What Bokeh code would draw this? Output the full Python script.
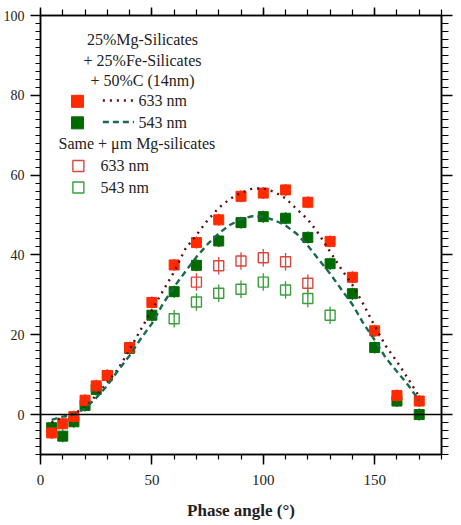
from bokeh.plotting import figure
from bokeh.models import (Range1d, LinearAxis, SingleIntervalTicker, Span, CustomJSTickFormatter)
from bokeh.core.properties import value
from bokeh.embed import file_html
from bokeh.resources import INLINE

# ---- data ----
angle_full = [5, 10, 15, 20, 25, 30, 40, 50, 60, 70, 80, 90, 100, 110, 120, 130, 140, 150, 160, 170]
red633 = [-4.6, -2.3, -0.5, 3.6, 7.2, 9.8, 16.8, 28.1, 37.5, 43.1, 48.8, 54.7, 55.5, 56.3, 53.2, 43.4, 34.4, 21.0, 4.8, 3.4]
green543 = [-3.3, -5.4, -1.8, 2.3, 6.3, 9.8, 16.6, 24.9, 30.8, 37.4, 43.5, 48.1, 49.6, 49.2, 44.4, 37.8, 30.3, 16.8, 3.4, 0.0]
err_filled = [1.5] * len(angle_full)

angle_red_um = [70, 80, 90, 100, 110, 120]
red633_um = [33.2, 37.3, 38.5, 39.3, 38.3, 32.9]
angle_green_um = [60, 70, 80, 90, 100, 110, 120, 130]
green543_um = [24.0, 28.2, 30.4, 31.4, 33.2, 31.2, 29.1, 24.9]
err_red_um = [2.2] * len(angle_red_um)
err_green_um = [2.2] * len(angle_green_um)

curve_x = [5, 10, 15, 20, 25, 30, 35, 40, 45, 50, 55, 60, 65, 70, 75, 80, 85, 90, 95, 100,
           105, 110, 115, 120, 125, 130, 135, 140, 145, 150, 155, 160, 165, 170]
model633 = [-2.0, -0.6, 0.2, 1.8, 4.8, 8.0, 11.6, 16.3, 21.3, 26.2, 31.0, 35.8, 41.5, 45.0, 48.7,
            51.8, 54.0, 55.6, 56.6, 56.7, 55.8, 54.2, 51.5, 48.9, 45.2, 40.8, 36.5, 32.5, 27.6,
            22.2, 17.2, 13.3, 9.0, 4.5]
model543 = [-1.3, -0.5, 0.0, 1.5, 4.2, 7.3, 11.2, 14.8, 19.0, 22.8, 27.8, 32.0, 35.8, 39.5, 42.7,
            45.4, 47.5, 49.0, 49.7, 49.6, 48.7, 47.4, 45.3, 42.3, 38.8, 35.3, 31.4, 27.6, 22.8,
            18.7, 14.2, 10.8, 7.4, 3.5]

x_ticks_major = 50
y_ticks_major = 20
x_label = "Phase angle (°)"

RED = "#ff2a00"
GREEN = "#006a00"
RED_OPEN = "#d8483e"
GREEN_OPEN = "#3c9e3c"
DOT = "#5e0c0c"
DASH = "#1a6b4e"
FONT = "Liberation Serif"
TXT = "#222222"

p = figure(frame_width=401, frame_height=439, output_backend="svg", toolbar_location=None,
           x_range=Range1d(0, 180), y_range=Range1d(-10, 100),
           x_axis_location=None, y_axis_location=None,
           min_border_left=40, min_border_right=19, min_border_top=15, min_border_bottom=70)
p.xgrid.visible = False
p.ygrid.visible = False
p.outline_line_color = "black"
p.outline_line_width = 1.5

bottom = LinearAxis(ticker=SingleIntervalTicker(interval=x_ticks_major, num_minor_ticks=5))
left = LinearAxis(ticker=SingleIntervalTicker(interval=y_ticks_major, num_minor_ticks=10))
top = LinearAxis(ticker=SingleIntervalTicker(interval=x_ticks_major, num_minor_ticks=5))
right = LinearAxis(ticker=SingleIntervalTicker(interval=y_ticks_major, num_minor_ticks=10))
p.add_layout(bottom, "below")
p.add_layout(left, "left")
p.add_layout(top, "above")
p.add_layout(right, "right")

for ax in [bottom, left, top, right]:
    ax.axis_line_color = "black"
    ax.axis_line_width = 1.5
    ax.major_tick_line_color = "black"
    ax.minor_tick_line_color = "black"
    ax.major_tick_line_width = 1.5
    ax.minor_tick_line_width = 1.2
    ax.major_tick_in = 0
    ax.minor_tick_in = 0
    ax.major_tick_out = 10
    ax.minor_tick_out = 5
    ax.major_label_text_font = FONT
    ax.major_label_text_font_size = "15px"
    ax.major_label_text_color = TXT

left.major_label_text_font_size = "14px"
top.major_tick_out = 8
top.minor_tick_out = 6
right.major_tick_out = 11
right.minor_tick_out = 7
for ax in [top, right]:
    ax.formatter = CustomJSTickFormatter(code="return ''")
    ax.major_label_standoff = 0

left.major_label_standoff = 6
bottom.major_label_standoff = 10
bottom.axis_label = x_label
bottom.axis_label_text_font = FONT
bottom.axis_label_text_font_size = "17px"
bottom.axis_label_text_font_style = "bold"
bottom.axis_label_text_color = TXT
bottom.axis_label_standoff = 13

# zero line
p.add_layout(Span(location=0, dimension="width", line_color="black", line_width=1.5))

# error bars
def errbars(xs, ys, es, color):
    p.segment(x0=xs, y0=[y - e for y, e in zip(ys, es)], x1=xs,
              y1=[y + e for y, e in zip(ys, es)], line_color=color, line_width=1.3)

errbars(angle_red_um, red633_um, err_red_um, RED_OPEN)
errbars(angle_green_um, green543_um, err_green_um, GREEN_OPEN)
p.scatter(angle_red_um, red633_um, marker="square", size=10, fill_alpha=0,
          line_color=RED_OPEN, line_width=1.4)
p.scatter(angle_green_um, green543_um, marker="square", size=10, fill_alpha=0,
          line_color=GREEN_OPEN, line_width=1.4)

errbars(angle_full, green543, err_filled, GREEN)
p.scatter(angle_full, green543, marker="square", size=10, fill_color=GREEN, line_color=GREEN)
errbars(angle_full, red633, err_filled, RED)
p.scatter(angle_full, red633, marker="square", size=10, fill_color=RED, line_color=RED)

p.line(curve_x, model633, line_color=DOT, line_width=2.4, line_dash="2 5")
p.line(curve_x, model543, line_color=DASH, line_width=2.4, line_dash="6 4")

# ---- legend block (positions in data units) ----
title_lines = ["25%Mg-Silicates", "+ 25%Fe-Silicates", "+ 50%C (14nm)"]
p.text(x=[45.8, 45.8, 45.8], y=[93.9, 88.8, 83.7], text=title_lines,
       text_font=value(FONT), text_font_size="16px", text_baseline="middle",
       text_align="center", text_color=TXT)

p.scatter([16.6], [78.5], marker="square", size=12, fill_color=RED, line_color=RED)
p.line([28.0, 42.0], [78.7, 78.7], line_color=DOT, line_width=2.4, line_dash="2 5")
p.scatter([16.6], [73.1], marker="square", size=12, fill_color=GREEN, line_color=GREEN)
p.line([28.0, 42.0], [73.3, 73.3], line_color=DASH, line_width=2.4, line_dash="6 4")
p.text(x=[44.0, 44.0], y=[78.7, 73.3], text=["633 nm", "543 nm"],
       text_font=value(FONT), text_font_size="16px", text_baseline="middle",
       text_color=TXT)

p.text(x=[8.1], y=[67.9], text=["Same + μm Mg-silicates"],
       text_font=value(FONT), text_font_size="16px", text_baseline="middle",
       text_color=TXT)
p.scatter([17.0], [62.3], marker="square", size=11, fill_alpha=0,
          line_color=RED_OPEN, line_width=1.4)
p.scatter([17.0], [56.9], marker="square", size=11, fill_alpha=0,
          line_color=GREEN_OPEN, line_width=1.4)
p.text(x=[26.9, 26.9], y=[62.3, 56.9], text=["633 nm", "543 nm"],
       text_font=value(FONT), text_font_size="16px", text_baseline="middle",
       text_color=TXT)

open("out.html", "w").write(file_html(p, INLINE))
